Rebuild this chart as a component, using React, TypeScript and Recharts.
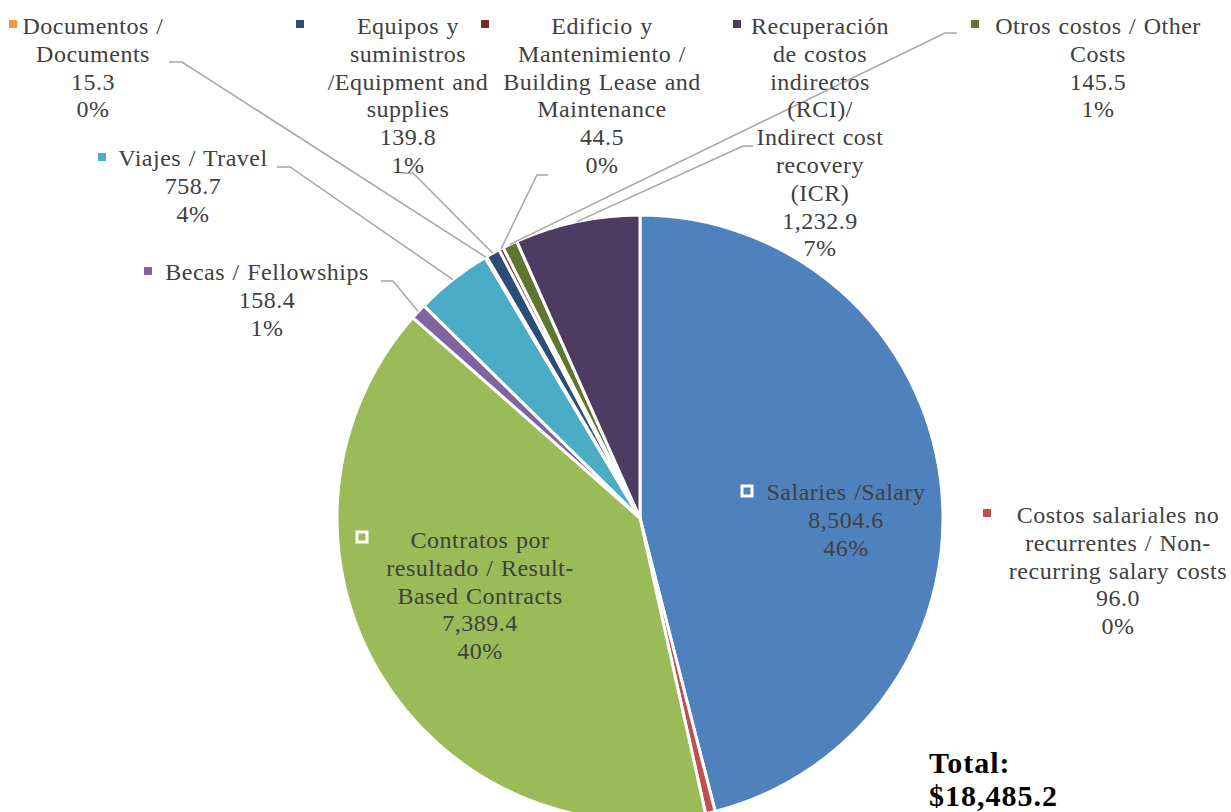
import React from "react";
import { PieChart, Pie, Cell } from "recharts";

// categories in drawing order (clockwise from 12 o'clock)
const categories = [
  "Salaries /Salary",
  "Costos salariales no\nrecurrentes / Non-\nrecurring salary costs",
  "Contratos por\nresultado / Result-\nBased Contracts",
  "Becas / Fellowships",
  "Viajes / Travel",
  "Documentos /\nDocuments",
  "Equipos y\nsuministros\n/Equipment and\nsupplies",
  "Edificio y\nMantenimiento /\nBuilding Lease and\nMaintenance",
  "Otros costos / Other\nCosts",
  "Recuperación\nde costos\nindirectos\n(RCI)/\nIndirect cost\nrecovery\n(ICR)",
];
const amounts = [8504.6, 96.0, 7389.4, 158.4, 758.7, 15.3, 139.8, 44.5, 145.5, 1232.9];
const pctLabels = ["46%", "0%", "40%", "1%", "4%", "0%", "1%", "0%", "1%", "7%"];
const colors = [
  "#4F81BD", "#C0504D", "#9BBB59", "#8064A2", "#4BACC6",
  "#F79646", "#2C4D75", "#772C2A", "#5F7530", "#4D3B62",
];
const TOTAL_LABEL = "$18,485.2";

const data = categories.map((name, i) => ({ name, value: amounts[i] }));

// where each data label sits (text centre x, first baseline y, marker centre, leader elbow)
type LabelPos = {
  x: number;
  y: number;
  mx: number;
  my: number;
  inside?: boolean;
  elbow?: [number, number, number]; // start x (towards pie), end x, y
};
const labelPos: LabelPos[] = [
  { x: 846, y: 500, mx: 747, my: 491, inside: true },
  { x: 1118, y: 523, mx: 987, my: 513 },
  { x: 480, y: 548, mx: 362, my: 537, inside: true },
  { x: 267, y: 280, mx: 148, my: 271, elbow: [393, 381, 281] },
  { x: 193, y: 166, mx: 102, my: 157, elbow: [290, 277, 167] },
  { x: 93, y: 34, mx: 13, my: 24, elbow: [182, 169, 62] },
  { x: 408, y: 34, mx: 300, my: 24, elbow: [413, 401, 173] },
  { x: 602, y: 34, mx: 485, my: 24, elbow: [537, 548, 175] },
  { x: 1098, y: 34, mx: 975, my: 24, elbow: [945, 957, 33] },
  { x: 820, y: 34, mx: 737, my: 24, elbow: [743, 753, 146] },
];

const LINE_H = 27.8;
const RADIAN = Math.PI / 180;
const FONT = "'Liberation Serif', 'Times New Roman', serif";

const fmt = (v: number) =>
  v.toLocaleString("en-US", { minimumFractionDigits: 1, maximumFractionDigits: 1 });

const renderLabel = (props: any) => {
  const { cx, cy, midAngle, outerRadius, index, value } = props;
  const pos = labelPos[index];
  const lines = [...categories[index].split("\n"), fmt(value), pctLabels[index]];
  let leader = null;
  if (pos.elbow) {
    const px = cx + outerRadius * Math.cos(-midAngle * RADIAN);
    const py = cy + outerRadius * Math.sin(-midAngle * RADIAN);
    const [x1, x2, ey] = pos.elbow;
    leader = (
      <polyline
        points={`${x2},${ey} ${x1},${ey} ${px},${py}`}
        fill="none"
        stroke="#A6A6A6"
        strokeWidth={1.5}
      />
    );
  }
  return (
    <g key={`lbl-${index}`}>
      {leader}
      {pos.inside ? (
        <rect
          x={pos.mx - 5}
          y={pos.my - 5}
          width={10}
          height={10}
          fill={colors[index]}
          stroke="#fff"
          strokeWidth={3}
        />
      ) : (
        <rect x={pos.mx - 4} y={pos.my - 4} width={8} height={8} fill={colors[index]} />
      )}
      <text
        x={pos.x}
        y={pos.y}
        textAnchor="middle"
        fill="#404040"
        fontSize={24}
        fontFamily={FONT}
        style={{ letterSpacing: 0.5, wordSpacing: 1 }}
      >
        {lines.map((l, i) => (
          <tspan key={i} x={pos.x} y={pos.y + i * LINE_H}>
            {l}
          </tspan>
        ))}
      </text>
    </g>
  );
};

export default function App() {
  return (
    <div style={{ position: "absolute", left: 0, top: 0, width: 1231, height: 812, background: "#fff" }}>
      <PieChart width={1231} height={812} margin={{ top: 0, right: 0, bottom: 0, left: 0 }}>
        <Pie
          data={data}
          dataKey="value"
          nameKey="name"
          cx={640}
          cy={518}
          outerRadius={303}
          startAngle={90}
          endAngle={-270}
          stroke="#fff"
          strokeWidth={3}
          label={renderLabel}
          labelLine={false}
          isAnimationActive={false}
        >
          {data.map((d, i) => (
            <Cell key={d.name} fill={colors[i]} />
          ))}
        </Pie>
        <text x={929} y={773} fontFamily={FONT} fontWeight="bold" fontSize={30} fill="#000" style={{ letterSpacing: 1 }}>
          Total:
        </text>
        <text x={929} y={806} fontFamily={FONT} fontWeight="bold" fontSize={30} fill="#000" style={{ letterSpacing: 1 }}>
          {TOTAL_LABEL}
        </text>
      </PieChart>
    </div>
  );
}
